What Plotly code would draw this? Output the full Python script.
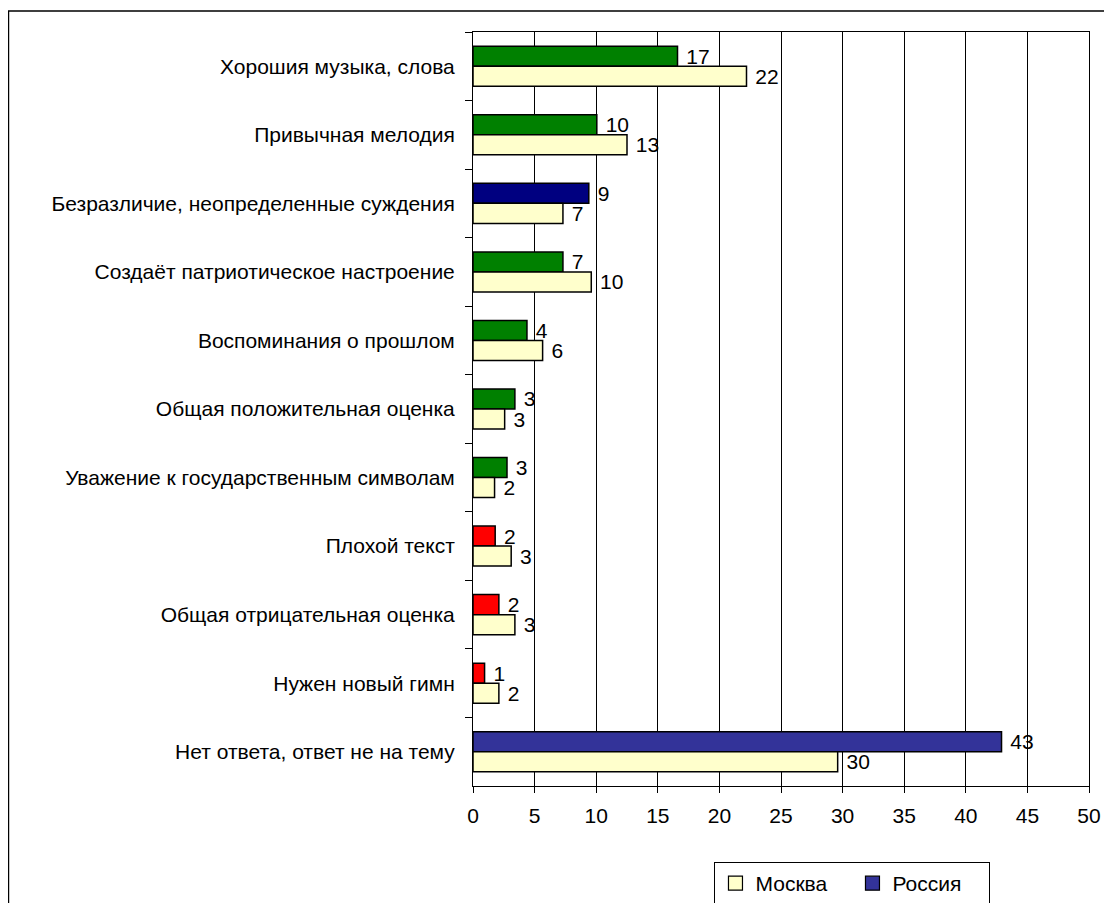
import plotly.graph_objects as go

categories = [
    "Хорошия музыка, слова",
    "Привычная мелодия",
    "Безразличие, неопределенные суждения",
    "Создаёт патриотическое настроение",
    "Воспоминания о прошлом",
    "Общая положительная оценка",
    "Уважение к государственным символам",
    "Плохой текст",
    "Общая отрицательная оценка",
    "Нужен новый гимн",
    "Нет ответа, ответ не на тему",
]
russia_values = [16.6, 10.05, 9.4, 7.3, 4.38, 3.4, 2.76, 1.8, 2.1, 0.94, 42.9]
russia_labels = ["17", "10", "9", "7", "4", "3", "3", "2", "2", "1", "43"]
russia_colors = ["#008000", "#008000", "#000080", "#008000", "#008000", "#008000",
                 "#008000", "#FF0000", "#FF0000", "#FF0000", "#333399"]
moscow_values = [22.2, 12.5, 7.3, 9.6, 5.65, 2.57, 1.75, 3.1, 3.4, 2.1, 29.6]
moscow_labels = ["22", "13", "7", "10", "6", "3", "2", "3", "3", "2", "30"]
moscow_color = "#FFFFCC"
russia_legend_color = "#333399"
x_ticks = [0, 5, 10, 15, 20, 25, 30, 35, 40, 45, 50]

FONT = "Liberation Sans, Arial, sans-serif"
FS = 21

fig = go.Figure()
fig.add_trace(go.Bar(
    y=categories, x=russia_values, orientation="h", name="Россия",
    marker=dict(color=russia_colors, line=dict(color="black", width=1.5)),
    text=russia_labels, texttemplate=" %{text}", textposition="outside",
    constraintext="none",
    textfont=dict(family=FONT, size=FS, color="black"), cliponaxis=False,
    showlegend=False, hoverinfo="x+y",
))
fig.add_trace(go.Bar(
    y=categories, x=moscow_values, orientation="h", name="Москва",
    marker=dict(color=moscow_color, line=dict(color="black", width=1.5)),
    text=moscow_labels, texttemplate=" %{text}", textposition="outside",
    constraintext="none",
    textfont=dict(family=FONT, size=FS, color="black"), cliponaxis=False,
    showlegend=False, hoverinfo="x+y",
))
# legend entries
fig.add_trace(go.Scatter(x=[None], y=[None], mode="markers", name="Москва",
                         marker=dict(symbol="square", size=14, color=moscow_color,
                                     line=dict(color="black", width=1.2))))
fig.add_trace(go.Scatter(x=[None], y=[None], mode="markers", name="Россия",
                         marker=dict(symbol="square", size=14, color=russia_legend_color,
                                     line=dict(color="black", width=1.2))))

fig.update_layout(
    width=1104, height=895,
    margin=dict(l=465, r=23, t=24, b=117, autoexpand=False),
    paper_bgcolor="white", plot_bgcolor="white",
    barmode="group", bargap=0.416, bargroupgap=0,
    font=dict(family=FONT, size=FS, color="black"),
    showlegend=True,
    legend=dict(orientation="h", x=0.392, y=-0.1008, xanchor="left", yanchor="top",
                bordercolor="black", borderwidth=1, bgcolor="white",
                font=dict(family=FONT, size=FS, color="black"),
                entrywidth=92, entrywidthmode="pixels", traceorder="normal",
                itemclick=False),
    shapes=[dict(type="rect", xref="paper", yref="paper",
                 x0=-0.7541, x1=1.05, y0=-0.2, y1=1.0279,
                 line=dict(color="black", width=1.5), fillcolor="rgba(0,0,0,0)",
                 layer="below")],
)
fig.update_xaxes(
    range=[0, 50], tickvals=x_ticks, ticks="outside", ticklen=6, tickcolor="black",
    ticklabelstandoff=5,
    showgrid=True, gridcolor="black", gridwidth=1, zeroline=False,
    showline=True, linecolor="black", linewidth=1, mirror=True,
    tickfont=dict(family=FONT, size=FS, color="black"),
)
fig.update_yaxes(
    autorange="reversed", type="category", tickson="boundaries",
    ticks="outside", ticklen=7, tickcolor="black", ticklabelstandoff=13,
    showline=True, linecolor="black", linewidth=1, mirror=True, showgrid=False,
    tickfont=dict(family=FONT, size=FS, color="black"),
)

fig.write_html("out.html")
